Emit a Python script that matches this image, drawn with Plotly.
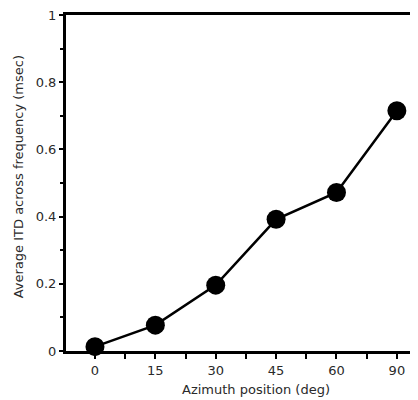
import plotly.graph_objects as go

azimuth_labels = ["0", "15", "30", "45", "60", "90"]
avg_itd = [0.013, 0.077, 0.196, 0.392, 0.472, 0.715]
y_tickvals = [0, 0.2, 0.4, 0.6, 0.8, 1]
y_ticktext = ["0", "0.2", "0.4", "0.6", "0.8", "1"]
x_title = "Azimuth position (deg)"
y_title = "Average ITD across frequency (msec)"

xpos = list(range(len(azimuth_labels)))

fig = go.Figure()
fig.add_trace(go.Scatter(
    x=xpos, y=avg_itd, mode="lines+markers",
    line=dict(color="black", width=2.5),
    marker=dict(color="black", size=19),
    cliponaxis=False, showlegend=False,
))

font = dict(family="DejaVu Sans, Verdana, sans-serif", size=13, color="#2a2a2a")

# page body adds an 8px offset; compensate so the plot lands where the reference has it
fig.update_layout(
    width=410, height=392,
    margin=dict(l=58, r=0, t=7, b=49, autoexpand=False),
    plot_bgcolor="white", paper_bgcolor="white",
    font=font,
    xaxis=dict(
        range=[-0.48, 5.35], automargin=False,
        tickmode="array", tickvals=xpos, ticktext=azimuth_labels,
        showgrid=False, zeroline=False,
        showline=True, linecolor="black", linewidth=3, mirror=True,
        ticks="outside", ticklen=5, tickwidth=2, tickcolor="black",
        minor=dict(ticks="outside", ticklen=5, tickwidth=2, tickcolor="black",
                   tick0=0.5, dtick=1, showgrid=False),
        tickfont=font, ticklabeloverflow="allow",
    ),
    yaxis=dict(
        range=[0, 1], automargin=False,
        tickmode="array", tickvals=y_tickvals, ticktext=y_ticktext,
        showgrid=False, zeroline=False,
        showline=True, linecolor="black", linewidth=3,
        ticks="outside", ticklen=4, tickwidth=2, tickcolor="black",
        minor=dict(ticks="outside", ticklen=3, tickwidth=2, tickcolor="black",
                   tick0=0.1, dtick=0.2, showgrid=False),
        tickfont=font, ticklabeloverflow="allow",
    ),
    annotations=[
        dict(text=x_title, xref="paper", yref="paper", x=0.54, y=0,
             yshift=-38, xanchor="center", yanchor="middle",
             showarrow=False, font=font),
        dict(text=y_title, xref="paper", yref="paper", x=0, y=0.517,
             xshift=-48, xanchor="center", yanchor="middle", textangle=-90,
             showarrow=False, font=font),
    ],
)

fig.write_html("out.html")
